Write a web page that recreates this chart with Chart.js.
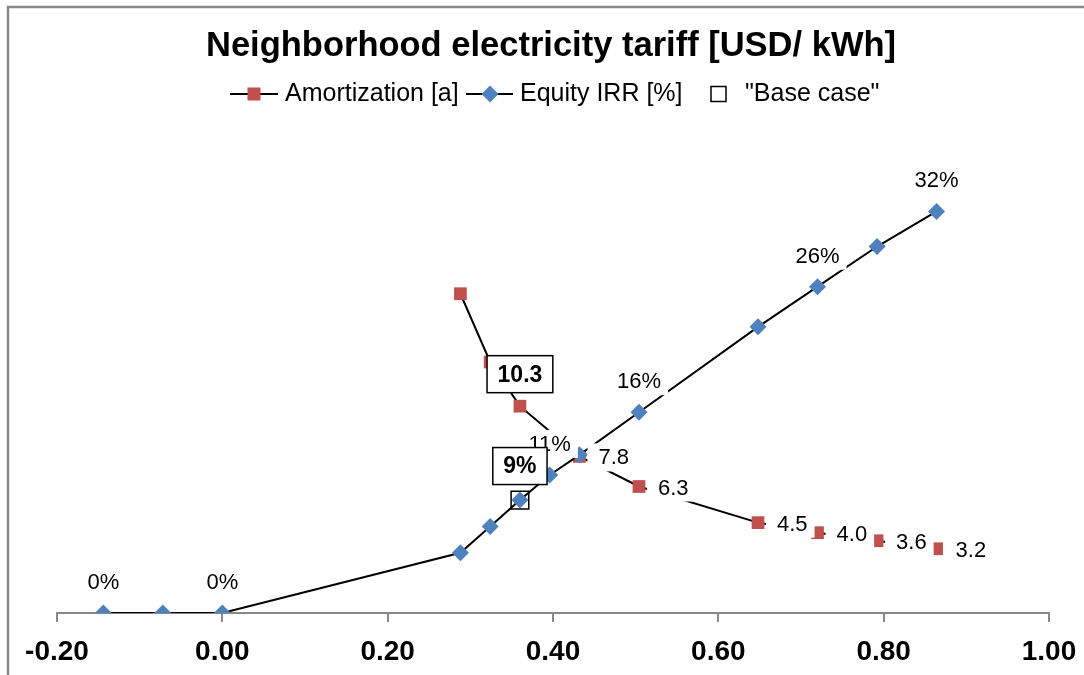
<!DOCTYPE html>
<html>
<head>
<meta charset="utf-8">
<title>Neighborhood electricity tariff</title>
<script src="https://cdn.jsdelivr.net/npm/chart.js@4.4.0/dist/chart.umd.min.js"></script>
<style>
html, body { margin: 0; padding: 0; background: #fff; }
#wrap { width: 1084px; height: 675px; }
</style>
</head>
<body>
<div id="wrap"><canvas id="myChart" width="1084" height="675"></canvas></div>
<script>
// tariff steps [USD/kWh]
const tariff = [-0.144, -0.072, 0.000, 0.288, 0.324, 0.360, 0.396, 0.432, 0.504, 0.648, 0.720, 0.792, 0.864];
// equity IRR [%] for each tariff
const equityIrr = [0, 0, 0, 4.8, 6.9, 9, 11, 12.6, 16, 22.8, 26, 29.2, 32];
// amortization [a], no payback below the cost level
const amortization = [null, null, null, 15.9, 12.5, 10.3, null, 7.8, 6.3, 4.5, 4.0, 3.6, 3.2];
// base case
const baseTariff = 0.360;
const baseIrr = 9;
const baseAmortization = 10.3;
// which points get a value label
const irrLabelIdx = [0, 2, 6, 8, 10, 12];
const amortLabelIdx = [7, 8, 9, 10, 11, 12];
const xTicks = [-0.20, 0.00, 0.20, 0.40, 0.60, 0.80, 1.00];

const RED = '#C0504D';
const BLUE = '#4F81BD';
const FONT = '"Liberation Sans", Arial, sans-serif';

function pts(ys) {
  return tariff.map(function (x, i) { return { x: x, y: ys[i] }; });
}

// draws title, legend, frame and the value labels
const decorPlugin = {
  id: 'decor',
  afterDatasetsDraw: function (chart) {
    const c = chart.ctx;
    c.save();
    c.textBaseline = 'middle';

    function plainLabel(txt, cx, cy, align) {
      c.font = '22px ' + FONT;
      const w = c.measureText(txt).width;
      let left = align === 'left' ? cx : cx - w / 2;
      c.fillStyle = '#fff';
      if (align === 'left') c.fillRect(left - 11, cy - 14, w + 18, 28);
      else c.fillRect(left - 7, cy - 14, w + 14, 28);
      c.fillStyle = '#000';
      c.textAlign = 'left';
      c.fillText(txt, left, cy + 1);
    }
    function boxLabel(txt, cx, cy) {
      c.font = 'bold 23px ' + FONT;
      const w = c.measureText(txt).width;
      const bw = w + 21, bh = 37;
      c.fillStyle = '#fff';
      c.fillRect(cx - bw / 2, cy - bh / 2, bw, bh);
      c.strokeStyle = '#000';
      c.lineWidth = 1.5;
      c.strokeRect(cx - bw / 2, cy - bh / 2, bw, bh);
      c.fillStyle = '#000';
      c.textAlign = 'center';
      c.fillText(txt, cx, cy + 1);
    }

    const amMeta = chart.getDatasetMeta(0).data;
    const irrMeta = chart.getDatasetMeta(1).data;
    amortLabelIdx.forEach(function (i) {
      plainLabel(amortization[i].toFixed(1), amMeta[i].x + 19, amMeta[i].y + 1, 'left');
    });
    irrLabelIdx.forEach(function (i) {
      plainLabel(Math.round(equityIrr[i]) + '%', irrMeta[i].x, irrMeta[i].y - 31, 'center');
    });
    const xs = chart.scales.x;
    boxLabel(baseAmortization.toFixed(1), xs.getPixelForValue(baseTariff), chart.scales.yAmort.getPixelForValue(baseAmortization) - 32);
    boxLabel(Math.round(baseIrr) + '%', xs.getPixelForValue(baseTariff), chart.scales.yIrr.getPixelForValue(baseIrr) - 34);
    c.restore();
  },
  afterDraw: function (chart) {
    const c = chart.ctx;
    c.save();
    // outer frame
    c.strokeStyle = '#888';
    c.lineWidth = 2.5;
    c.beginPath();
    c.moveTo(8, 675);
    c.lineTo(8, 7);
    c.lineTo(1084, 7);
    c.stroke();

    // title
    c.fillStyle = '#000';
    c.textAlign = 'center';
    c.textBaseline = 'middle';
    c.font = 'bold 34.5px ' + FONT;
    c.fillText('Neighborhood electricity tariff [USD/ kWh]', 551, 46);

    // legend
    const ly = 94;
    c.font = '25px ' + FONT;
    c.textAlign = 'left';
    c.strokeStyle = '#000';
    c.lineWidth = 2;
    c.beginPath(); c.moveTo(230, ly); c.lineTo(278, ly); c.stroke();
    c.fillStyle = RED;
    c.fillRect(247.5, ly - 6.5, 13, 13);
    c.fillStyle = '#000';
    c.fillText('Amortization [a]', 285, ly);

    c.beginPath(); c.moveTo(466, ly); c.lineTo(513, ly); c.stroke();
    c.fillStyle = BLUE;
    c.beginPath();
    c.moveTo(490, ly - 8.5); c.lineTo(498.5, ly); c.lineTo(490, ly + 8.5); c.lineTo(481.5, ly);
    c.closePath(); c.fill();
    c.fillStyle = '#000';
    c.fillText('Equity IRR [%]', 520, ly);

    c.lineWidth = 1.5;
    c.strokeRect(711, ly - 7.5, 15, 15);
    c.fillText('"Base case"', 745, ly);
    c.restore();
  }
};

const ctx = document.getElementById('myChart').getContext('2d');
const myChart = new Chart(ctx, {
  type: 'scatter',
  data: {
    datasets: [
      {
        label: 'Amortization [a]',
        data: pts(amortization),
        yAxisID: 'yAmort',
        showLine: true,
        spanGaps: true,
        borderColor: '#000',
        borderWidth: 2,
        pointStyle: 'rect',
        pointRadius: 9,
        pointBackgroundColor: RED,
        pointBorderWidth: 0,
        order: 3
      },
      {
        label: 'Equity IRR [%]',
        data: pts(equityIrr),
        yAxisID: 'yIrr',
        showLine: true,
        borderColor: '#000',
        borderWidth: 2,
        pointStyle: 'rectRot',
        pointRadius: 8.5,
        pointBackgroundColor: BLUE,
        pointBorderWidth: 0,
        order: 2
      },
      {
        label: '"Base case"',
        data: [{ x: baseTariff, y: baseIrr }],
        yAxisID: 'yIrr',
        showLine: false,
        pointStyle: 'rect',
        pointRadius: 12.5,
        pointBackgroundColor: 'rgba(0,0,0,0)',
        pointBorderColor: '#000',
        pointBorderWidth: 1.5,
        order: 1
      }
    ]
  },
  options: {
    responsive: false,
    animation: false,
    devicePixelRatio: 1,
    layout: { padding: { left: 57, right: 35, top: 111, bottom: 8 } },
    plugins: {
      legend: { display: false },
      title: { display: false },
      tooltip: { enabled: false }
    },
    scales: {
      x: {
        type: 'linear',
        min: xTicks[0],
        max: xTicks[xTicks.length - 1],
        afterBuildTicks: function (axis) {
          axis.ticks = xTicks.map(function (v) { return { value: v }; });
        },
        afterFit: function (axis) {
          axis.paddingLeft = 0;
          axis.paddingRight = 0;
          axis.height = 54;
        },
        ticks: {
          color: '#000',
          padding: 13,
          maxRotation: 0,
          font: { family: FONT, size: 28, weight: 'bold' },
          callback: function (v) { return (Math.abs(v) < 1e-9 ? 0 : v).toFixed(2); }
        },
        grid: {
          drawOnChartArea: false,
          drawTicks: true,
          tickLength: 9,
          color: '#888',
          lineWidth: 2
        },
        border: { color: '#888', width: 2 }
      },
      yIrr: { type: 'linear', display: false, min: 0, max: 40 },
      yAmort: { type: 'linear', display: false, min: 0, max: 25 }
    }
  },
  plugins: [decorPlugin]
});
</script>
</body>
</html>
